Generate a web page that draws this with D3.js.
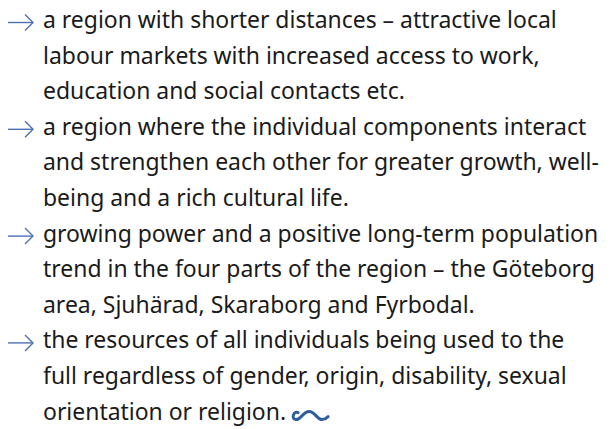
<!DOCTYPE html>
<html>
<head>
<meta charset="utf-8">
<script src="https://cdn.jsdelivr.net/npm/d3@7"></script>
<style>
  html, body { margin: 0; padding: 0; background: #fff; }
  svg { display: block; }
</style>
</head>
<body>
<div id="chart"></div>
<script>
// the four bullet points, already broken into lines as in the original
let bullet1 = [
  'a region with shorter distances \u2013 attractive local',
  'labour markets with increased access to work,',
  'education and social contacts etc.'
];
let bullet2 = [
  'a region where the individual components interact',
  'and strengthen each other for greater growth, well-',
  'being and a rich cultural life.'
];
let bullet3 = [
  'growing power and a positive long-term population',
  'trend in the four parts of the region \u2013 the G\u00f6teborg',
  'area, Sjuh\u00e4rad, Skaraborg and Fyrbodal.'
];
let bullet4 = [
  'the resources of all individuals being used to the',
  'full regardless of gender, origin, disability, sexual',
  'orientation or religion.'
];
let bullets = [bullet1, bullet2, bullet3, bullet4];

let width = 611;
let height = 429;
let textX = 43;
let firstLineWidth = 514; // roughly the width of the first line in the original

let lines = [];
bullets.forEach((b, bi) => {
  b.forEach((t, li) => {
    lines.push({ text: t, bullet: bi, first: li === 0 });
  });
});

let svg = d3.select('#chart').append('svg')
  .attr('width', width)
  .attr('height', height);

// baseline of each line
let y = d3.scaleLinear()
  .domain([0, lines.length - 1])
  .range([28, 419.6]);

let fontSize = 21;

let textGroup = svg.append('g')
  .attr('font-family', '"Noto Sans", "Open Sans", sans-serif')
  .style('font-stretch', '88%')
  .style('font-weight', 370)
  .attr('fill', '#1a1a1a');

let texts = textGroup.selectAll('text')
  .data(lines)
  .enter()
  .append('text')
  .attr('x', textX)
  .attr('y', (d, i) => y(i))
  .attr('font-size', fontSize)
  .text(d => d.text);

// fit the font size to the first line
let measured = texts.node().getComputedTextLength();
fontSize = fontSize * firstLineWidth / measured;
texts.attr('font-size', fontSize);

// arrows in front of every bullet
let arrowColor = '#4a72b4';
let arrows = svg.selectAll('g.arrow')
  .data(lines.map((d, i) => ({ d: d, i: i })).filter(o => o.d.first))
  .enter()
  .append('g')
  .classed('arrow', true)
  .attr('transform', o => `translate(8, ${y(o.i) - 5.5})`)
  .attr('fill', 'none')
  .attr('stroke', arrowColor)
  .attr('stroke-width', 1.4);

arrows.append('line')
  .attr('x1', 0).attr('y1', 0)
  .attr('x2', 25).attr('y2', 0);
arrows.append('path')
  .attr('d', 'M17,-8 L25,0 L17,8');

// the little end mark after the last line
let lastIndex = lines.length - 1;
let lastWidth = texts.filter((d, i) => i === lastIndex).node().getComputedTextLength();
svg.append('path')
  .attr('transform', `translate(${textX + lastWidth + 5}, ${y(lastIndex) - 9})`)
  .attr('d', 'M7,2 C2,0 0,9 5,9 C10,9 12,1 18,1 C24,1 26,9 31,9 C34,9 36,7 37,6')
  .attr('fill', 'none')
  .attr('stroke', '#2f5d9e')
  .attr('stroke-width', 3)
  .attr('stroke-linecap', 'round');
</script>
</body>
</html>
